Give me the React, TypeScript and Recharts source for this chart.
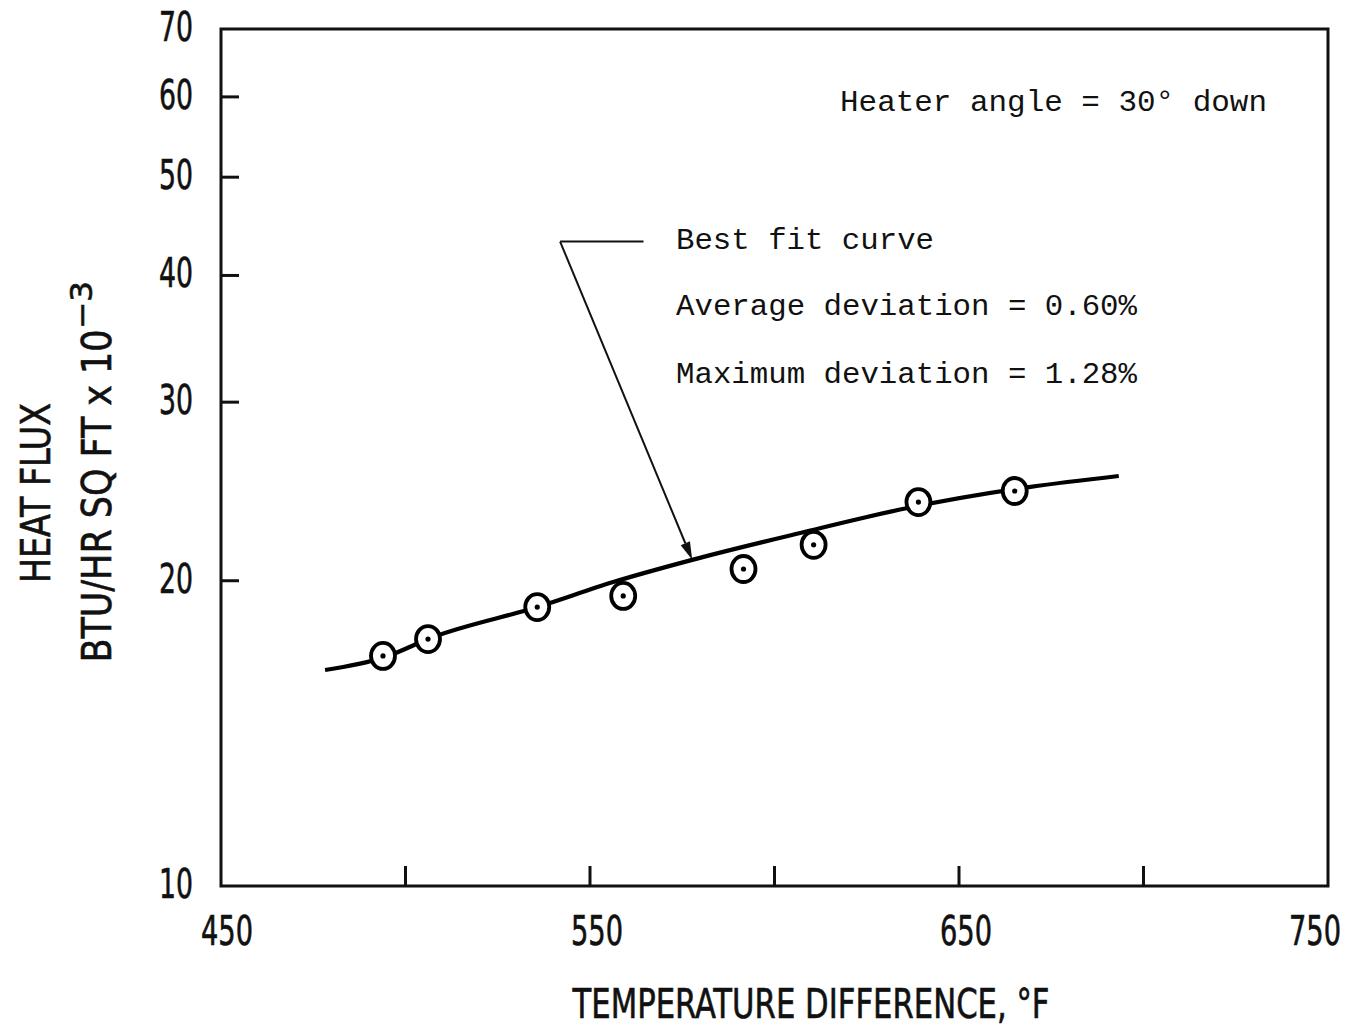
import React from "react";
import {
  ComposedChart,
  Line,
  Scatter,
  XAxis,
  YAxis,
  ReferenceArea,
  ReferenceLine,
} from "recharts";

// axis ticks
const X_TICKS = [450, 500, 550, 600, 650, 700, 750];
const X_LABELS = [450, 550, 650, 750];
const Y_TICKS = [10, 20, 30, 40, 50, 60, 70];

// measured points (temperature difference, heat flux x 1e-3)
const tempDiff = [493.9, 506.1, 535.7, 559.0, 591.6, 610.6, 639.0, 665.1];
const heatFlux = [16.86, 17.52, 18.84, 19.32, 20.54, 21.7, 23.91, 24.52];

// best fit curve
const fitTemp = [478.2, 493.9, 507.5, 535.7, 556.3, 577.7, 607.0, 636.1, 669.4, 693.3];
const fitFlux = [16.33, 16.79, 17.6, 18.84, 19.94, 20.97, 22.29, 23.59, 24.75, 25.37];

// leader line for "Best fit curve" note
const leaderTemp = [541.9, 564.5, 577.7];
const leaderFlux = [43.2, 43.2, 20.97];

const W = 1351;
const H = 1033;
const PLOT_LEFT = 221;
const PLOT_BOTTOM = 886;

const points = tempDiff.map((x, i) => ({ x, y: heatFlux[i] }));
const fit = fitTemp.map((x, i) => ({ x, y: fitFlux[i] }));

const LABEL_FONT = '"Liberation Sans Narrow", "DejaVu Sans Condensed", sans-serif';
const NOTE_FONT = '"Liberation Mono", "DejaVu Sans Mono", monospace';

function XTick(props: any) {
  const { x, payload } = props;
  const v = payload.value;
  const inner = v !== 450 && v !== 750;
  const last = v === 750;
  return (
    <g>
      {inner && (
        <line x1={x} x2={x} y1={PLOT_BOTTOM} y2={PLOT_BOTTOM - 20} stroke="#111" strokeWidth={3} />
      )}
      {X_LABELS.includes(v) && (
        <text
          x={last ? x + 13 : x + (v === 450 ? 6 : 7)}
          y={945}
          textAnchor={last ? "end" : "middle"}
          fontFamily={LABEL_FONT}
          fontSize={41}
          textLength={52}
          lengthAdjust="spacingAndGlyphs"
          fill="#111"
          stroke="#111"
          strokeWidth={0.6}
        >
          {v}
        </text>
      )}
    </g>
  );
}

function YTick(props: any) {
  const { y, payload } = props;
  const v = payload.value;
  const inner = v !== 10 && v !== 70;
  return (
    <g>
      {inner && (
        <line x1={PLOT_LEFT} x2={PLOT_LEFT + 18} y1={y} y2={y} stroke="#111" strokeWidth={3} />
      )}
      <text
        x={193}
        y={y + 12}
        textAnchor="end"
        fontFamily={LABEL_FONT}
        fontSize={41}
        textLength={34}
        lengthAdjust="spacingAndGlyphs"
        fill="#111"
        stroke="#111"
        strokeWidth={0.6}
      >
        {v}
      </text>
    </g>
  );
}

function Ring(props: any) {
  const { cx, cy } = props;
  return (
    <g>
      <ellipse cx={cx} cy={cy} rx={12} ry={13} fill="#fff" stroke="#000" strokeWidth={3.8} />
      <circle cx={cx} cy={cy} r={2.6} fill="#000" />
    </g>
  );
}

function Arrow(props: any) {
  const { x1, y1, x2, y2 } = props;
  const ang = Math.atan2(y2 - y1, x2 - x1);
  const len = 18;
  const half = 5;
  const bx = x2 - len * Math.cos(ang);
  const by = y2 - len * Math.sin(ang);
  const px = -Math.sin(ang) * half;
  const py = Math.cos(ang) * half;
  return (
    <g>
      <line x1={x1} y1={y1} x2={bx} y2={by} stroke="#111" strokeWidth={2} />
      <polygon
        points={`${x2},${y2} ${bx + px},${by + py} ${bx - px},${by - py}`}
        fill="#111"
      />
    </g>
  );
}

export default function App() {
  return (
    <div style={{ position: "absolute", left: 0, top: 0, width: W, height: H, background: "#fff" }}>
      <ComposedChart
        width={W}
        height={H}
        margin={{ top: 29, right: 23, bottom: 0, left: 0 }}
      >
        <XAxis
          dataKey="x"
          type="number"
          domain={[450, 750]}
          ticks={X_TICKS}
          tick={(p: any) => <XTick {...p} />}
          tickLine={false}
          axisLine={false}
          height={147}
          allowDataOverflow
        />
        <YAxis
          dataKey="y"
          type="number"
          scale="log"
          domain={[10, 70]}
          ticks={Y_TICKS}
          tick={(p: any) => <YTick {...p} />}
          tickLine={false}
          axisLine={false}
          width={221}
          allowDataOverflow
        />
        <ReferenceArea
          x1={450}
          x2={750}
          y1={10}
          y2={70}
          fill="none"
          fillOpacity={0}
          stroke="#111"
          strokeWidth={3}
        />
        <ReferenceLine
          segment={[
            { x: leaderTemp[0], y: leaderFlux[0] },
            { x: leaderTemp[1], y: leaderFlux[1] },
          ]}
          stroke="#111"
          strokeWidth={2}
        />
        <ReferenceLine
          segment={[
            { x: leaderTemp[0], y: leaderFlux[0] },
            { x: leaderTemp[2], y: leaderFlux[2] },
          ]}
          shape={(p: any) => <Arrow {...p} />}
        />
        <Line
          data={fit}
          dataKey="y"
          type="monotone"
          stroke="#000"
          strokeWidth={4.2}
          dot={false}
          isAnimationActive={false}
        />
        <Scatter data={points} dataKey="y" shape={(p: any) => <Ring {...p} />} isAnimationActive={false} />
      </ComposedChart>

      <svg
        width={W}
        height={H}
        style={{ position: "absolute", left: 0, top: 0, pointerEvents: "none" }}
      >
        <g fontFamily={NOTE_FONT} fontSize={30} fill="#111">
          <text x={840} y={111} textLength={427} lengthAdjust="spacingAndGlyphs">
            Heater angle = 30° down
          </text>
          <text x={676} y={249} textLength={258} lengthAdjust="spacingAndGlyphs">
            Best fit curve
          </text>
          <text x={676} y={315} textLength={461} lengthAdjust="spacingAndGlyphs">
            Average deviation = 0.60%
          </text>
          <text x={676} y={383} textLength={461} lengthAdjust="spacingAndGlyphs">
            Maximum deviation = 1.28%
          </text>
        </g>
        <g fontFamily={LABEL_FONT} fontSize={41} fill="#111" stroke="#111" strokeWidth={0.6}>
          <text
            x={811}
            y={1018}
            textAnchor="middle"
            textLength={477}
            lengthAdjust="spacingAndGlyphs"
          >
            TEMPERATURE DIFFERENCE, °F
          </text>
          <text
            transform="translate(50,493) rotate(-90)"
            textAnchor="middle"
            textLength={180}
            lengthAdjust="spacingAndGlyphs"
          >
            HEAT FLUX
          </text>
          <text
            transform="translate(111,496) rotate(-90)"
            textAnchor="middle"
            textLength={333}
            lengthAdjust="spacingAndGlyphs"
          >
            BTU/HR SQ FT x 10
          </text>
          <text
            transform="translate(92,305) rotate(-90)"
            textAnchor="middle"
            fontSize={30}
            textLength={48}
            lengthAdjust="spacingAndGlyphs"
          >
            −3
          </text>
        </g>
      </svg>
    </div>
  );
}
